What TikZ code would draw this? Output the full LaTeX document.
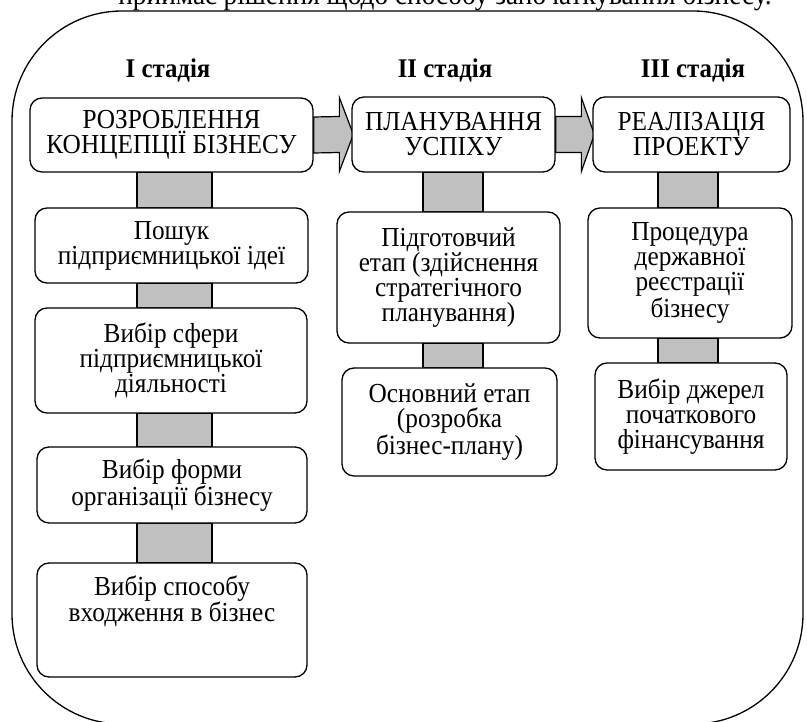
\documentclass[tikz,border=0pt]{standalone}
\usepackage{fontspec}
\setmainfont[FakeStretch=0.92]{Liberation Serif}
\usetikzlibrary{calc,backgrounds}
\definecolor{barfill}{HTML}{C0C0C0}
\begin{document}
\begin{tikzpicture}[x=1pt,y=-1pt,
  every node/.style={font=\fontsize{27.5}{25}\selectfont},
  stepbox/.style={draw, line width=1.3pt, fill=white, rounded corners=12pt,
    align=center, inner sep=0pt},
  stagetitle/.style={font=\fontsize{27}{25}\selectfont\bfseries, anchor=base},
  bar/.style={draw=black, line width=1.2pt, fill=barfill},
  blockarrow/.style={draw=black, line width=1.2pt, fill=barfill, line join=miter},
  frame/.style={draw=black, line width=1.3pt, rounded corners=110pt}
]
\useasboundingbox (0,0) rectangle (807,722);

% running text line above the scheme
\node[anchor=base, font=\fontsize{29.7}{33}\selectfont] (lead) at (445,5)
  {приймає рішення щодо способу започаткування бізнесу.};

% stage headings
\node[stagetitle] (s1) at (168,78) {I стадія};
\node[stagetitle] (s2) at (445,78) {II стадія};
\node[stagetitle] (s3) at (693,78) {III стадія};

% stage boxes
\node[stepbox, minimum width=283, minimum height=74] (b1) at (171.5,135)
  {РОЗРОБЛЕННЯ\\КОНЦЕПЦІЇ БІЗНЕСУ};
\node[stepbox, minimum width=203, minimum height=75] (b2) at (453.5,134.5)
  {ПЛАНУВАННЯ\\УСПІХУ};
\node[stepbox, minimum width=197, minimum height=75] (b3) at (691.5,134.5)
  {РЕАЛІЗАЦІЯ\\ПРОЕКТУ};

% first stage steps
\node[stepbox, minimum width=273, minimum height=75] (b1a) at (171.5,245.5)
  {Пошук\\підприємницької ідеї};
\node[stepbox, minimum width=272, minimum height=105] (b1b) at (171,360.5)
  {Вибір сфери\\підприємницької\\діяльності};
\node[stepbox, minimum width=270, minimum height=76] (b1c) at (172,485)
  {Вибір форми\\організації бізнесу};
\node[stepbox, minimum width=270, minimum height=114] (b1d) at (172,620) {};
\node[anchor=north, align=center, inner sep=0pt] (b1dt) at ($(b1d.north)+(0,13)$)
  {Вибір способу\\входження в бізнес};

% second stage steps
\node[stepbox, minimum width=223, minimum height=131] (b2a) at (448.5,277.5)
  {Підготовчий\\етап (здійснення\\стратегічного\\планування)};
\node[stepbox, minimum width=215, minimum height=108] (b2b) at (449.5,422)
  {Основний етап\\(розробка\\бізнес-плану)};

% third stage steps
\node[stepbox, minimum width=204, minimum height=130] (b3a) at (690,273)
  {Процедура\\державної\\реєстрації\\бізнесу};
\node[stepbox, minimum width=192, minimum height=107] (b3b) at (691,416.5)
  {Вибір джерел\\початкового\\фінансування};

% column guides for the connecting bars
\coordinate (c1l) at (137,0);
\coordinate (c1r) at (212,0);
\coordinate (c2l) at (423,0);
\coordinate (c2r) at (483,0);
\coordinate (c3l) at (658,0);
\coordinate (c3r) at (718,0);

\begin{pgfonlayer}{background}
  % outer frame
  \draw[frame] (12,11) rectangle (803,724);

  % vertical bars
  \draw[bar] (b1.south -| c1l) rectangle (b1a.north -| c1r);
  \draw[bar] (b1a.south -| c1l) rectangle (b1b.north -| c1r);
  \draw[bar] (b1b.south -| c1l) rectangle (b1c.north -| c1r);
  \draw[bar] (b1c.south -| c1l) rectangle (b1d.north -| c1r);
  \draw[bar] (b2.south -| c2l) rectangle (b2a.north -| c2r);
  \draw[bar] (b2a.south -| c2l) rectangle (b2b.north -| c2r);
  \draw[bar] (b3.south -| c3l) rectangle (b3a.north -| c3r);
  \draw[bar] (b3a.south -| c3l) rectangle (b3b.north -| c3r);

  % block arrows between stages
  \draw[blockarrow] ($(b1.east)+(0,-18)$) -- ($(b2.west)+(-12,-18)$)
    -- ($(b2.west)+(-12,-37)$) -- ($(b2.west)+(2,0)$) -- ($(b2.west)+(-12,37)$)
    -- ($(b2.west)+(-12,18)$) -- ($(b1.east)+(0,18)$) -- cycle;
  \draw[blockarrow] ($(b2.east)+(0,-18)$) -- ($(b3.west)+(-11,-18)$)
    -- ($(b3.west)+(-11,-37)$) -- ($(b3.west)+(2,0)$) -- ($(b3.west)+(-11,37)$)
    -- ($(b3.west)+(-11,18)$) -- ($(b2.east)+(0,18)$) -- cycle;
\end{pgfonlayer}
\end{tikzpicture}
\end{document}
